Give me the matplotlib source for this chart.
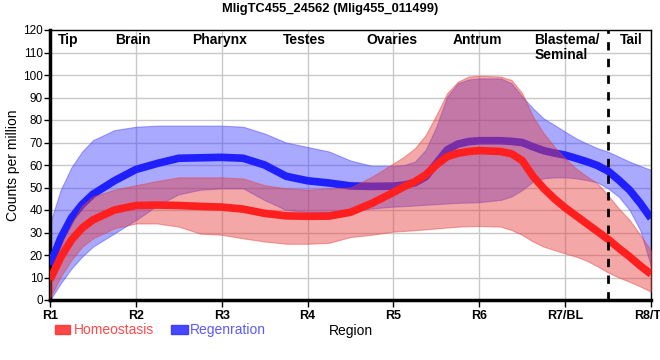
import numpy as np
import matplotlib
matplotlib.use("Agg")
import matplotlib.pyplot as plt
import matplotlib.patches as mpatches

plt.rcParams['font.family'] = ['Liberation Sans', 'DejaVu Sans']

# 区域位置（R1 = 0 ... R8 = 7），弯曲处读得密一些
pos = [0, 0.125, 0.25, 0.375, 0.5, 0.75, 1, 1.25, 1.5, 1.75, 2, 2.25, 2.5, 2.75, 3, 3.25, 3.5, 3.75,
       4, 4.125, 4.25, 4.375, 4.5, 4.625, 4.75, 4.875, 5,
       5.25, 5.375, 5.5, 5.625, 5.75, 5.875, 6, 6.125, 6.25, 6.375, 6.5, 6.625, 6.75, 6.875, 7]

homeo_mean = [9, 19, 26.7, 32, 35.6, 40, 42, 42.2, 42, 41.6, 41.3, 40.4, 38.5, 37.4, 37.2, 37.3, 39, 43,
              47.8, 50.4, 52.6, 55.6, 60, 63.7, 65.2, 66, 66.4,
              66, 65, 62, 55, 49.6, 45, 41, 37.5, 34, 30.5, 27, 23, 19.3, 15.2, 11.5]
homeo_upper = [12, 23.7, 34, 42, 46, 49, 51, 52.9, 54.5, 54.5, 54.5, 54, 51, 49.6, 49, 49.6, 50, 54.8,
               60.7, 63.7, 67.4, 73.3, 82.2, 91.9, 97, 99.3, 99.7,
               99.3, 97.8, 91.9, 81.5, 74.1, 68.1, 63, 58.5, 55, 51.9, 46.5, 40.7, 35.6, 29, 22]
homeo_lower = [1, 10.4, 17.8, 23.7, 27.4, 31.9, 34, 34, 32.6, 29.5, 29, 27.4, 26, 25, 25, 25.4, 28, 29,
               30.4, 30.7, 31, 31.4, 31.8, 32.2, 32.6, 32.8, 32.9,
               32.6, 31.1, 28.9, 26, 23.7, 22.2, 20.7, 19.3, 17.5, 15, 12.2, 10, 8.1, 6, 3.7]

regen_mean = [15.6, 27.5, 36.5, 42.5, 47, 53, 58, 60.7, 63, 63.2, 63.4, 63, 60, 55, 53, 52, 50.7, 50.5,
              50.6, 51.1, 52.1, 54.8, 60.7, 66.7, 69.3, 70.4, 70.8,
              70.8, 70.5, 70, 68.1, 66.4, 65.3, 64.4, 63, 61.5, 59.8, 57.3, 53.3, 48.9, 43, 36.3]
regen_upper = [34, 49, 59, 66, 71, 75.5, 77, 77.5, 77.5, 77.5, 77.5, 77, 74, 70, 68, 66, 62, 59.6,
               59.6, 60, 61.5, 66.7, 77, 90.4, 96.3, 98, 98.5,
               98.5, 96.3, 90.4, 85.2, 80.7, 77.8, 74.8, 71.9, 69.6, 67.5, 65.9, 63.7, 61.5, 59.6, 57.8]
regen_lower = [0, 7.4, 14, 19.3, 23.7, 29.6, 35.5, 42, 47, 49, 49.6, 49.6, 44.4, 40, 39, 39, 39.5, 40.7,
               41.5, 41.7, 42, 42.3, 42.6, 42.9, 43.2, 43.3, 43.5,
               44.5, 46, 48.9, 52.6, 54.1, 54.5, 54.5, 54.1, 53.3, 52.3, 49.6, 45.9, 40, 31, 15]

tick_labels = ['R1', 'R2', 'R3', 'R4', 'R5', 'R6', 'R7/BL', 'R8/TL']
region_names = ['Tip', 'Brain', 'Pharynx', 'Testes', 'Ovaries', 'Antrum', 'Blastema/\nSeminal', 'Tail']
region_x = [0.21, 0.97, 1.98, 2.96, 3.98, 4.98, 5.64, 6.77]
region_ha = ['center'] * 6 + ['left', 'center']

red_fill = (0.90, 0.24, 0.24)
blue_fill = (0.25, 0.25, 1.0)
red_line = '#ff1f1f'
blue_line = '#2020ff'

fig = plt.figure(figsize=(6.6, 3.6), dpi=100)
ax = fig.add_axes([50 / 660, 60 / 360, 601 / 660, 270 / 360])

# 先画再生组，再画稳态组（稳态的阴影盖在蓝线上）
ax.fill_between(pos, regen_lower, regen_upper, color=blue_fill, alpha=0.45, lw=0.8, zorder=2)
ax.plot(pos, regen_mean, color=blue_line, lw=5.5, solid_capstyle='butt', solid_joinstyle='round', zorder=3)
ax.fill_between(pos, homeo_lower, homeo_upper, color=red_fill, alpha=0.45, lw=0.8, zorder=4)
ax.plot(pos, homeo_mean, color=red_line, lw=5.5, solid_capstyle='butt', solid_joinstyle='round', zorder=5)

ax.axvline(6.5, color='black', lw=2, ls=(0, (3, 3)), zorder=6)

ax.set_xlim(0, 7)
ax.set_ylim(0, 120)
ax.set_xticks(range(8))
ax.set_xticklabels(tick_labels, fontsize=9, fontweight='bold')
ax.set_yticks(range(0, 121, 10))
ax.tick_params(axis='y', labelsize=8.5, length=4, width=1, pad=1)
ax.tick_params(axis='x', length=5, width=1, pad=2)
ax.grid(True, color='#c8c8c8', lw=1, zorder=0)
ax.set_axisbelow(True)
for side in ['top', 'right']:
    ax.spines[side].set_linewidth(1)
for side in ['left', 'bottom']:
    ax.spines[side].set_linewidth(2.5)

for name, x, ha in zip(region_names, region_x, region_ha):
    ax.text(x, 118.5, name, ha=ha, va='top', fontsize=10, fontweight='bold', zorder=7,
            linespacing=1.1)

ax.set_ylabel('Counts per million', fontsize=10, labelpad=2)
fig.suptitle('MligTC455_24562 (Mlig455_011499)', fontsize=9.3, fontweight='bold', y=0.993)

# 图例（在图下方）
fig.patches.append(mpatches.Rectangle((55 / 660, 1 - 334 / 360), 15 / 660, 9 / 360,
                                      transform=fig.transFigure, color='#ff3333', alpha=0.9))
fig.text(74 / 660, 1 - 330 / 360, 'Homeostasis', color='#ff4a4a', fontsize=10, va='center')
fig.patches.append(mpatches.Rectangle((171 / 660, 1 - 334 / 360), 17 / 660, 9 / 360,
                                      transform=fig.transFigure, color='#3333ff', alpha=0.9))
fig.text(190 / 660, 1 - 330 / 360, 'Regenration', color='#5a5aff', fontsize=10, va='center')
fig.text(351 / 660, 1 - 331 / 360, 'Region', color='black', fontsize=10, ha='center', va='center')

fig.savefig('out.png', dpi=100)
